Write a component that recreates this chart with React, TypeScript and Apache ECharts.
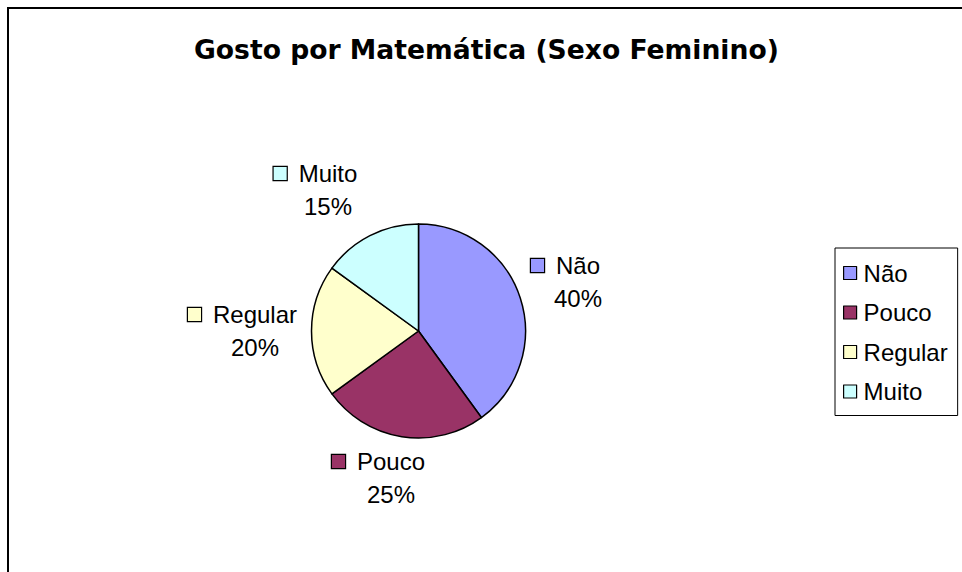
import React, { useEffect, useRef } from "react";
import * as echarts from "echarts";

const titleText = "Gosto por Matemática (Sexo Feminino)";
const categories = ["Não", "Pouco", "Regular", "Muito"];
const values = [40, 25, 20, 15];
const colors = ["#9999FF", "#993366", "#FFFFCC", "#CCFFFF"];

// label block offsets from the pie centre (layout, not data)
const labelOffsets: [number, number][] = [
  [159.5, -49],
  [-27.5, 147],
  [-163.5, 0],
  [-90.5, -141],
];

const PIE_CX = 418.5;
const PIE_CY = 331;
const PIE_R = 107;
const FONT = "Liberation Sans";
const TITLE_FONT = "DejaVu Sans";

export default function App() {
  const ref = useRef<HTMLDivElement>(null);

  useEffect(() => {
    if (!ref.current) return;
    const chart = echarts.init(ref.current, undefined, { renderer: "svg" });

    const rich: Record<string, any> = {
      name: { fontFamily: FONT, fontSize: 24, lineHeight: 33, color: "#000", padding: [0, 0, 0, 12] },
      gap: { width: 25, height: 13 },
      pct: { fontFamily: FONT, fontSize: 24, lineHeight: 33, color: "#000" },
    };
    colors.forEach((c, i) => {
      rich["sq" + i] = {
        width: 13,
        height: 13,
        backgroundColor: c,
        borderColor: "#000",
        borderWidth: 1.2,
      };
    });

    chart.setOption({
      animation: false,
      backgroundColor: "#fff",
      title: {
        text: titleText,
        left: 189,
        top: 31,
        padding: 5,
        textStyle: { fontFamily: TITLE_FONT, fontSize: 26.6, fontWeight: "bold", color: "#000" },
      },
      legend: {
        orient: "vertical",
        left: 835,
        top: 248,
        data: categories,
        icon: "rect",
        itemWidth: 13,
        itemHeight: 13,
        itemGap: 15.5,
        padding: [13, 10, 12, 8],
        borderColor: "#000",
        borderWidth: 1,
        selectedMode: false,
        itemStyle: { borderColor: "#000", borderWidth: 1.2 },
        textStyle: {
          fontFamily: FONT,
          fontSize: 24,
          lineHeight: 23,
          color: "#000",
          padding: [0, 0, 0, 2],
        },
      },
      graphic: [
        {
          type: "rect",
          shape: { x: 8, y: 8, width: 2000, height: 2000 },
          style: { fill: "none", stroke: "#000", lineWidth: 2 },
          silent: true,
        },
      ],
      series: [
        {
          type: "pie",
          silent: true,
          center: [PIE_CX, PIE_CY],
          radius: PIE_R,
          startAngle: 90,
          clockwise: true,
          itemStyle: { borderColor: "#000", borderWidth: 1.5 },
          labelLine: { show: false },
          label: {
            show: true,
            position: "outside",
            formatter: (p: any) =>
              `{sq${p.dataIndex}|}{name|${p.name}}{gap|}\n{pct|${Math.round(p.percent)}%}`,
            rich,
            align: "center",
          },
          labelLayout: (p: any) => {
            const o = labelOffsets[p.dataIndex];
            return {
              x: PIE_CX + o[0],
              y: PIE_CY + o[1],
              align: "center",
              verticalAlign: "middle",
            };
          },
          data: categories.map((name, i) => ({
            name,
            value: values[i],
            itemStyle: { color: colors[i] },
          })),
        },
      ],
    });

    return () => chart.dispose();
  }, []);

  return (
    <div
      ref={ref}
      style={{ position: "fixed", left: 0, top: 0, width: 962, height: 572 }}
    />
  );
}
